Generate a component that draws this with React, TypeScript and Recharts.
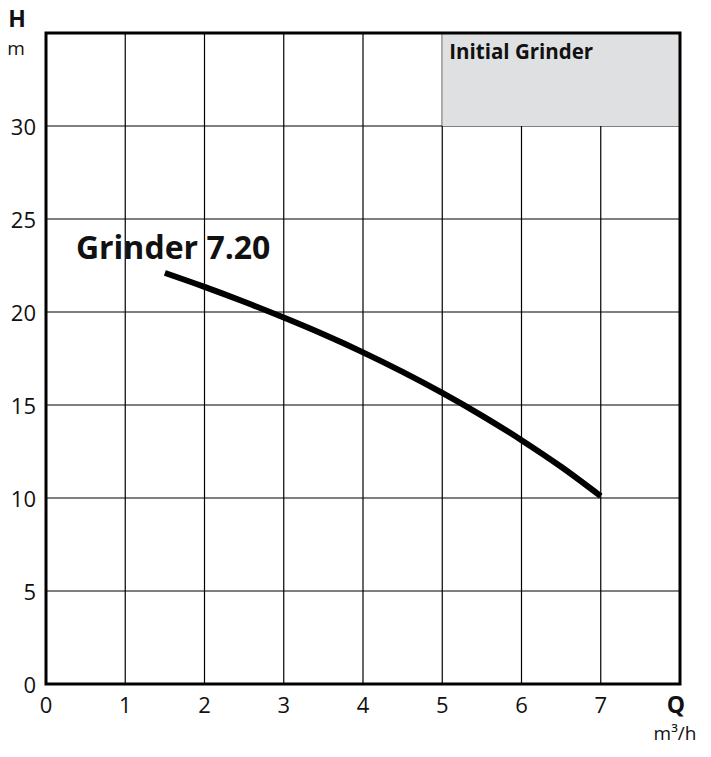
import React from 'react';
import { LineChart, Line, XAxis, YAxis, CartesianGrid, ReferenceArea } from 'recharts';

const flowQ = [1.5, 2, 2.5, 3, 3.5, 4, 4.5, 5, 5.5, 6, 6.5, 7];
const headH = [22.1, 21.35, 20.55, 19.7, 18.8, 17.83, 16.78, 15.65, 14.43, 13.11, 11.68, 10.1];
const xTicks = [0, 1, 2, 3, 4, 5, 6, 7, 8];
const yTicks = [0, 5, 10, 15, 20, 25, 30, 35];
const seriesName = 'Grinder 7.20';
const boxTitle = 'Initial Grinder';
const xAxisName = 'Q';
const xAxisUnit = 'm³/h';
const yAxisName = 'H';
const yAxisUnit = 'm';

const data = flowQ.map((q, i) => ({ q, h: headH[i] }));

const FONT = '"Open Sans", "Noto Sans", sans-serif';
const INK = '#111';

const XTick = (props: any) => {
  const { x, y, payload } = props;
  const v = payload.value;
  if (v === 8) {
    return (
      <g>
        <text x={x - 4} y={y + 21} textAnchor="middle" fontFamily={FONT} fontWeight={700} fontSize={23} fill={INK}>
          {xAxisName}
        </text>
        <text x={x - 5} y={y + 48} textAnchor="middle" fontFamily={FONT} fontSize={19} fill={INK}>
          {xAxisUnit}
        </text>
      </g>
    );
  }
  return (
    <text x={x} y={y + 21} textAnchor="middle" fontFamily={FONT} fontSize={22} fill={INK}>
      {v}
    </text>
  );
};

const YTick = (props: any) => {
  const { y, payload } = props;
  const v = payload.value;
  if (v === 35) {
    return (
      <g>
        <text x={17} y={y - 6} textAnchor="middle" fontFamily={FONT} fontWeight={700} fontSize={23} fill={INK}>
          {yAxisName}
        </text>
        <text x={16} y={y + 22} textAnchor="middle" fontFamily={FONT} fontSize={19} fill={INK}>
          {yAxisUnit}
        </text>
      </g>
    );
  }
  return (
    <text x={36} y={y} textAnchor="end" dominantBaseline="central" fontFamily={FONT} fontSize={22} fill={INK}>
      {v}
    </text>
  );
};

const SeriesLabel = (props: any) => {
  const { x, y, index } = props;
  if (index !== 0) return null;
  return (
    <text x={x - 89} y={y - 14} fontFamily={FONT} fontWeight={700} fontSize={32} fill={INK}>
      {seriesName}
    </text>
  );
};

const BoxLabel = (props: any) => {
  const vb = props.viewBox || {};
  return (
    <text x={vb.x + 7} y={vb.y + 26} fontFamily={FONT} fontWeight={700} fontSize={20.5} fill={INK}>
      {boxTitle}
    </text>
  );
};

export default function App() {
  return (
    <div style={{ position: 'absolute', left: 0, top: 0, background: '#fff' }}>
      <LineChart width={711} height={757} data={data} margin={{ top: 33, right: 31, bottom: 0, left: 0 }}>
        <CartesianGrid stroke="#000" strokeWidth={1.2} strokeOpacity={1} />
        <XAxis
          dataKey="q"
          type="number"
          domain={[0, 8]}
          ticks={xTicks}
          height={73}
          axisLine={false}
          tickLine={false}
          tick={<XTick />}
          interval={0}
        />
        <YAxis
          type="number"
          domain={[0, 35]}
          ticks={yTicks}
          width={46}
          axisLine={false}
          tickLine={false}
          tick={<YTick />}
          interval={0}
        />
        <ReferenceArea x1={5} x2={8} y1={30} y2={35} fill="#dfe0e2" fillOpacity={1} stroke="none" label={<BoxLabel />} />
        <ReferenceArea x1={0} x2={8} y1={0} y2={35} fill="none" stroke="#000" strokeWidth={3} />
        <Line
          type="monotone"
          dataKey="h"
          stroke="#000"
          strokeWidth={6}
          dot={false}
          isAnimationActive={false}
          label={<SeriesLabel />}
        />
      </LineChart>
    </div>
  );
}
